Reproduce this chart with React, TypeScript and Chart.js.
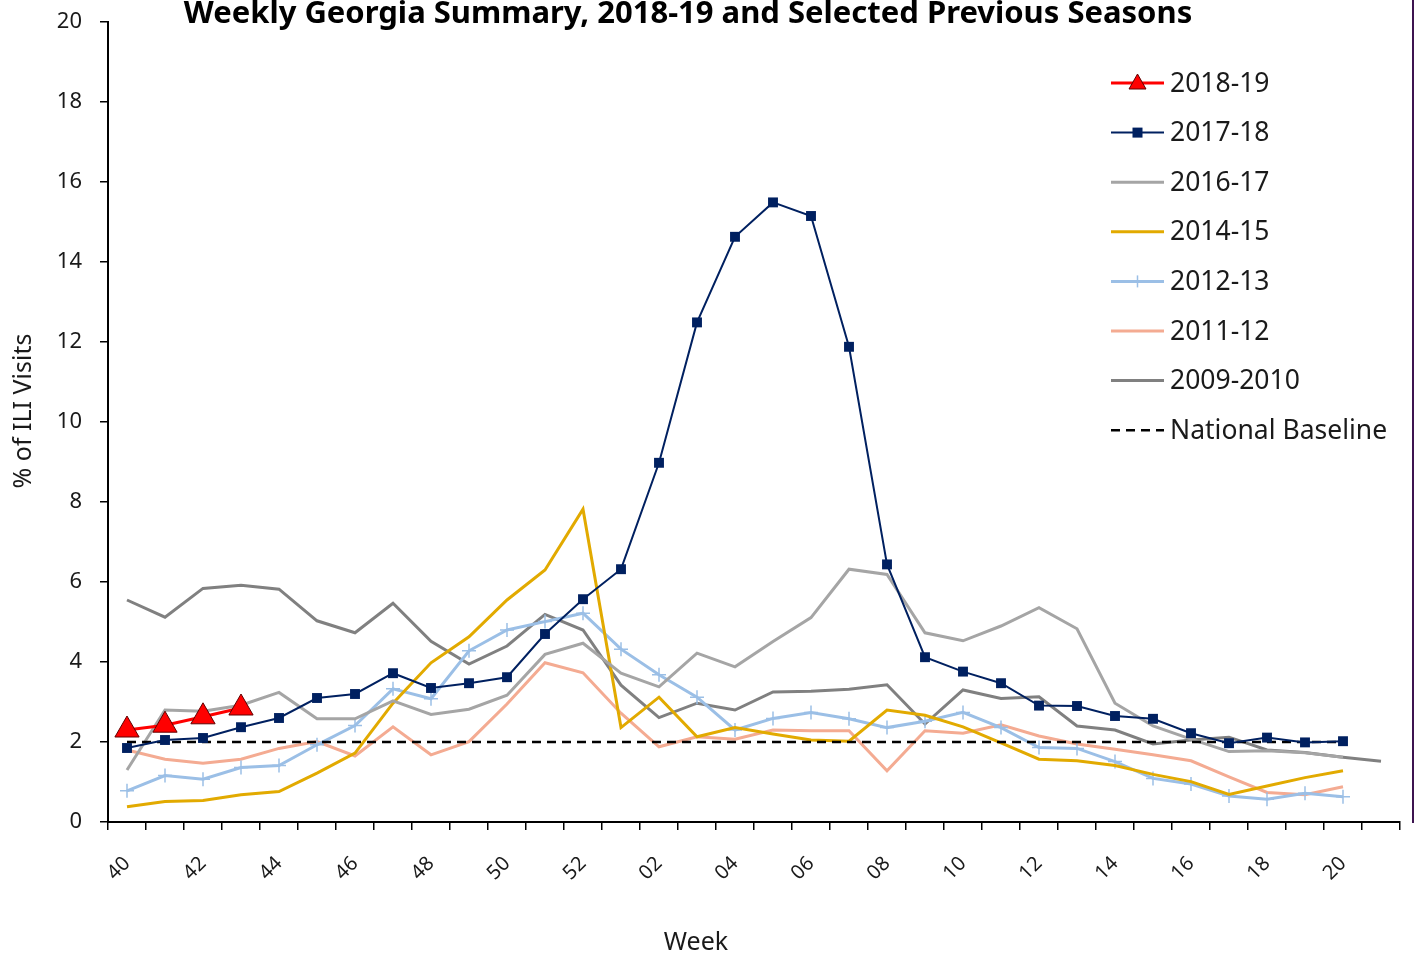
import React, { useEffect, useRef } from 'react';
import { Chart, registerables } from 'chart.js';

Chart.register(...registerables);

const FONT = '"Noto Sans", "Open Sans", sans-serif';

const weeks = [
  '40', '41', '42', '43', '44', '45', '46', '47', '48', '49', '50', '51', '52',
  '01', '02', '03', '04', '05', '06', '07', '08', '09', '10', '11', '12', '13',
  '14', '15', '16', '17', '18', '19', '20', '21',
];

const season2018_19 = [2.3, 2.42, 2.63, 2.85];

const season2017_18 = [
  1.85, 2.05, 2.1, 2.37, 2.6, 3.1, 3.2, 3.72, 3.35, 3.47, 3.62, 4.7, 5.57,
  6.32, 8.98, 12.49, 14.63, 15.49, 15.15, 11.88, 6.44, 4.12, 3.76, 3.47, 2.91,
  2.9, 2.65, 2.58, 2.22, 1.97, 2.11, 1.99, 2.02,
];

const season2016_17 = [
  1.3, 2.8, 2.77, 2.92, 3.24, 2.58, 2.58, 3.03, 2.69, 2.82, 3.17, 4.19, 4.47,
  3.72, 3.38, 4.22, 3.88, 4.51, 5.11, 6.32, 6.19, 4.73, 4.53, 4.9, 5.36, 4.83,
  2.97, 2.4, 2.07, 1.76, 1.78, 1.73, 1.62,
];

const season2014_15 = [
  0.38, 0.51, 0.54, 0.68, 0.76, 1.22, 1.72, 2.97, 3.98, 4.63, 5.55, 6.3, 7.82,
  2.36, 3.12, 2.13, 2.36, 2.2, 2.05, 2.02, 2.8, 2.67, 2.38, 1.98, 1.57, 1.53,
  1.41, 1.19, 1.01, 0.69, 0.9, 1.11, 1.28,
];

const season2012_13 = [
  0.78, 1.16, 1.07, 1.36, 1.41, 1.93, 2.41, 3.33, 3.08, 4.28, 4.8, 5.01, 5.22,
  4.32, 3.68, 3.12, 2.3, 2.59, 2.74, 2.58, 2.36, 2.52, 2.74, 2.36, 1.86, 1.84,
  1.51, 1.09, 0.95, 0.65, 0.57, 0.72, 0.63,
];

const season2011_12 = [
  1.8, 1.57, 1.47, 1.57, 1.84, 2.01, 1.65, 2.38, 1.68, 2.01, 2.95, 3.98, 3.73,
  2.72, 1.88, 2.13, 2.07, 2.3, 2.28, 2.28, 1.28, 2.28, 2.22, 2.43, 2.15, 1.95,
  1.82, 1.68, 1.53, 1.13, 0.74, 0.68, 0.88,
];

const season2009_10 = [
  5.55, 5.12, 5.84, 5.92, 5.82, 5.03, 4.73, 5.47, 4.52, 3.95, 4.4, 5.19, 4.8,
  3.42, 2.61, 2.97, 2.8, 3.25, 3.27, 3.32, 3.43, 2.45, 3.3, 3.09, 3.13, 2.4,
  2.3, 1.95, 2.05, 2.12, 1.8, 1.74, 1.62, 1.52,
];

const nationalBaseline = [
  2, 2, 2, 2, 2, 2, 2, 2, 2, 2, 2, 2, 2,
  2, 2, 2, 2, 2, 2, 2, 2, 2, 2, 2, 2, 2,
  2, 2, 2, 2, 2, 2, 2,
];

const yTicks = [0, 2, 4, 6, 8, 10, 12, 14, 16, 18, 20];

const TITLE = 'Weekly Georgia Summary, 2018-19 and Selected Previous Seasons';
const X_TITLE = 'Week';
const Y_TITLE = '% of ILI Visits';

type LegendEntry = { label: string; color: string; width: number; dash?: number[]; marker?: string; markerColor?: string };

const legendEntries: LegendEntry[] = [
  { label: '2018-19', color: '#FF0000', width: 3, marker: 'triangle', markerColor: '#FF0000' },
  { label: '2017-18', color: '#002060', width: 2, marker: 'rect', markerColor: '#002060' },
  { label: '2016-17', color: '#A5A5A5', width: 3 },
  { label: '2014-15', color: '#E2AA00', width: 3 },
  { label: '2012-13', color: '#9BBFE6', width: 3, marker: 'cross', markerColor: '#9BBFE6' },
  { label: '2011-12', color: '#F4AB92', width: 3 },
  { label: '2009-2010', color: '#808080', width: 3 },
  { label: 'National Baseline', color: '#000000', width: 2.5, dash: [9, 6] },
];

const decorPlugin = {
  id: 'decor',
  afterDraw(chart: any) {
    const ctx: CanvasRenderingContext2D = chart.ctx;
    ctx.save();
    // Title
    ctx.fillStyle = '#000';
    ctx.font = `bold 31px ${FONT}`;
    ctx.textAlign = 'center';
    ctx.textBaseline = 'alphabetic';
    ctx.fillText(TITLE, 688, 23);

    // Axis titles
    ctx.font = `25px ${FONT}`;
    ctx.fillStyle = '#1a1a1a';
    ctx.fillText(X_TITLE, 696, 950);
    ctx.save();
    ctx.translate(24, 411);
    ctx.rotate(-Math.PI / 2);
    ctx.textBaseline = 'middle';
    ctx.fillText(Y_TITLE, 0, 0);
    ctx.restore();

    // Legend
    const x0 = 1111;
    const x1 = 1164;
    const cx = (x0 + x1) / 2;
    let y = 83;
    ctx.font = `26.5px ${FONT}`;
    ctx.textAlign = 'left';
    ctx.textBaseline = 'middle';
    legendEntries.forEach((e) => {
      ctx.save();
      ctx.strokeStyle = e.color;
      ctx.lineWidth = e.width;
      ctx.setLineDash(e.dash || []);
      ctx.beginPath();
      ctx.moveTo(x0, y);
      ctx.lineTo(x1, y);
      ctx.stroke();
      ctx.setLineDash([]);
      if (e.marker === 'triangle') {
        ctx.fillStyle = e.markerColor!;
        ctx.strokeStyle = '#600000';
        ctx.lineWidth = 1;
        ctx.beginPath();
        ctx.moveTo(cx, y - 9);
        ctx.lineTo(cx + 8.5, y + 6);
        ctx.lineTo(cx - 8.5, y + 6);
        ctx.closePath();
        ctx.fill();
        ctx.stroke();
      } else if (e.marker === 'rect') {
        ctx.fillStyle = e.markerColor!;
        ctx.fillRect(cx - 5, y - 5, 10, 10);
      } else if (e.marker === 'cross') {
        ctx.strokeStyle = e.markerColor!;
        ctx.lineWidth = 1.5;
        ctx.beginPath();
        ctx.moveTo(cx, y - 6);
        ctx.lineTo(cx, y + 6);
        ctx.stroke();
      }
      ctx.restore();
      ctx.fillStyle = '#1a1a1a';
      ctx.fillText(e.label, 1170, y + 1);
      y += 49.6;
    });

    // Right frame line
    ctx.strokeStyle = '#3d1450';
    ctx.lineWidth = 2;
    ctx.beginPath();
    ctx.moveTo(1413, 0);
    ctx.lineTo(1413, 823);
    ctx.stroke();
    ctx.restore();
  },
};

export default function App() {
  const canvasRef = useRef<HTMLCanvasElement | null>(null);

  useEffect(() => {
    document.body.style.margin = '0';
    const canvas = canvasRef.current;
    if (!canvas) return;
    const e = legendEntries;
    const chart = new Chart(canvas, {
      type: 'line',
      data: {
        labels: weeks,
        datasets: [
          {
            label: e[0].label,
            data: season2018_19,
            borderColor: e[0].color,
            borderWidth: e[0].width,
            pointStyle: 'triangle',
            pointRadius: 14,
            pointBackgroundColor: '#FF0000',
            pointBorderColor: '#600000',
            pointBorderWidth: 1,
            order: 0,
          },
          {
            label: e[1].label,
            data: season2017_18,
            borderColor: e[1].color,
            borderWidth: e[1].width,
            pointStyle: 'rect',
            pointRadius: 7,
            pointBackgroundColor: '#002060',
            pointBorderColor: '#002060',
            pointBorderWidth: 0,
            order: 1,
          },
          {
            label: e[7].label,
            data: nationalBaseline,
            borderColor: e[7].color,
            borderWidth: e[7].width,
            borderDash: e[7].dash,
            pointRadius: 0,
            order: 2,
          },
          {
            label: e[2].label,
            data: season2016_17,
            borderColor: e[2].color,
            borderWidth: e[2].width,
            pointRadius: 0,
            order: 3,
          },
          {
            label: e[3].label,
            data: season2014_15,
            borderColor: e[3].color,
            borderWidth: e[3].width,
            pointRadius: 0,
            order: 4,
          },
          {
            label: e[4].label,
            data: season2012_13,
            borderColor: e[4].color,
            borderWidth: e[4].width,
            pointStyle: 'cross',
            pointRadius: 7,
            pointBorderColor: e[4].color,
            pointBorderWidth: 1.5,
            order: 5,
          },
          {
            label: e[5].label,
            data: season2011_12,
            borderColor: e[5].color,
            borderWidth: e[5].width,
            pointRadius: 0,
            order: 6,
          },
          {
            label: e[6].label,
            data: season2009_10,
            borderColor: e[6].color,
            borderWidth: e[6].width,
            pointRadius: 0,
            order: 7,
          },
        ],
      },
      options: {
        animation: false,
        responsive: false,
        maintainAspectRatio: false,
        devicePixelRatio: 1,
        layout: { padding: { top: 22, right: 15, left: 0, bottom: 0 } },
        elements: { line: { tension: 0 } },
        plugins: {
          legend: { display: false },
          title: { display: false },
          tooltip: { enabled: false },
        },
        scales: {
          x: {
            type: 'category',
            offset: true,
            afterFit: (scale: any) => {
              scale.height = 131;
              scale.paddingTop = 0;
              scale.paddingLeft = 0;
              scale.paddingRight = 0;
            },
            grid: {
              offset: true,
              drawOnChartArea: false,
              drawTicks: true,
              tickLength: 8,
              color: '#000',
              lineWidth: 1.5,
            },
            border: { display: true, color: '#000', width: 2 },
            ticks: {
              autoSkip: false,
              maxRotation: 45,
              minRotation: 45,
              padding: 22,
              labelOffset: 0,
              color: '#1a1a1a',
              font: { family: FONT, size: 20 },
              callback: (_v: any, i: number) => (i % 2 === 0 ? weeks[i] : ''),
            },
          },
          y: {
            min: 0,
            max: 20,
            afterFit: (scale: any) => {
              scale.width = 108;
              scale.paddingTop = 0;
              scale.paddingBottom = 0;
            },
            afterBuildTicks: (scale: any) => {
              scale.ticks = yTicks.map((v) => ({ value: v }));
            },
            grid: {
              drawOnChartArea: false,
              drawTicks: true,
              tickLength: 8,
              color: '#000',
              lineWidth: 1.5,
            },
            border: { display: true, color: '#000', width: 2 },
            ticks: {
              padding: 18,
              color: '#1a1a1a',
              font: { family: FONT, size: 22 },
            },
          },
        },
      },
      plugins: [decorPlugin],
    });
    return () => chart.destroy();
  }, []);

  return (
    <div style={{ position: 'relative', width: 1415, height: 953, background: '#fff' }}>
      <canvas ref={canvasRef} width={1415} height={953} style={{ width: 1415, height: 953, display: 'block' }} />
    </div>
  );
}
